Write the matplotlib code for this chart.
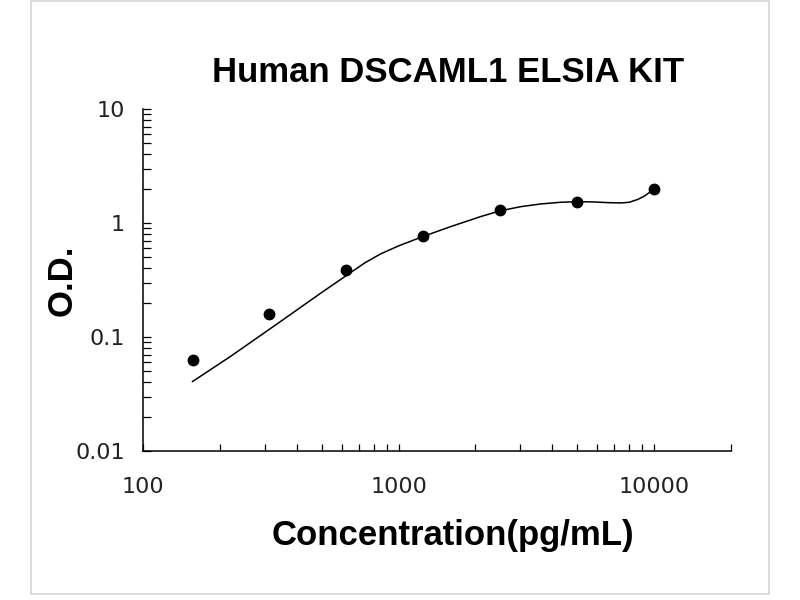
import matplotlib
matplotlib.use("Agg")
import matplotlib.pyplot as plt
import matplotlib.ticker as plticker
from matplotlib.patches import Rectangle

# standards (pg/mL) and measured O.D.
conc = [156.25, 312.5, 625, 1250, 2500, 5000, 10000]
od = [0.063, 0.159, 0.387, 0.769, 1.30, 1.53, 1.99]

# fitted curve
curve_x = [156, 219, 344, 494, 629, 740, 850, 1000, 1253, 1600, 2099, 2500, 3000,
           3606, 4300, 5025, 5800, 6580, 7400, 8000, 8630, 9160, 10000]
curve_y = [0.0406, 0.0671, 0.136, 0.241, 0.350, 0.449, 0.535, 0.630, 0.765, 0.93, 1.14, 1.28, 1.39,
           1.47, 1.52, 1.54, 1.53, 1.51, 1.50, 1.52, 1.61, 1.72, 1.99]

x_ticks = [100, 1000, 10000]
x_ticklabels = ["100", "1000", "10000"]
y_ticks = [0.01, 0.1, 1, 10]
y_ticklabels = ["0.01", "0.1", "1", "10"]

fig = plt.figure(figsize=(8, 6), dpi=100)
fig.patch.set_facecolor("white")
fig.patches.append(Rectangle((0.03875, 0.01), 0.9225, 0.988, transform=fig.transFigure,
                             fill=False, edgecolor="#d6d6d6", linewidth=1.2))

ax = fig.add_axes([0.17875, 0.2483, 0.735, 0.57])
ax.plot(curve_x, curve_y, color="black", linewidth=1.1, solid_capstyle="round", solid_joinstyle="round")
ax.plot(conc, od, "o", color="black", markersize=7.5)

ax.set_xscale("log")
ax.set_yscale("log")
ax.set_xlim(100, 20000)
ax.set_ylim(0.01, 10)

for side in ["top", "right"]:
    ax.spines[side].set_visible(False)
for side in ["left", "bottom"]:
    ax.spines[side].set_linewidth(1.1)

ax.set_xticks(x_ticks)
ax.set_xticklabels(x_ticklabels)
ax.set_yticks(y_ticks)
ax.set_yticklabels(y_ticklabels)
ax.xaxis.set_minor_locator(plticker.LogLocator(base=10, subs=range(2, 10), numticks=20))
ax.yaxis.set_minor_locator(plticker.LogLocator(base=10, subs=range(2, 10), numticks=20))
ax.xaxis.set_minor_formatter(plticker.NullFormatter())
ax.yaxis.set_minor_formatter(plticker.NullFormatter())

ax.tick_params(axis="x", which="both", direction="in", length=5, width=0.9, pad=19,
               labelsize=16, colors="black", labelcolor="#222222")
ax.tick_params(axis="y", which="both", direction="in", length=6, width=0.9, pad=13,
               labelsize=16, colors="black", labelcolor="#222222")

ax.set_xlabel("Concentration(pg/mL)", fontsize=25, fontweight="bold", family="Liberation Sans")
ax.xaxis.set_label_coords(0.527, -0.2749)
ax.xaxis.label.set_va("baseline")
ax.set_ylabel("O.D.", fontsize=25, fontweight="bold", family="Liberation Sans")
ax.yaxis.set_label_coords(-0.1207, 0.5)
ax.yaxis.label.set_va("baseline")

fig.text(448 / 800, 1 - 82 / 600, "Human DSCAML1 ELSIA KIT", fontsize=25, fontweight="bold",
         family="Liberation Sans", ha="center", va="baseline")

fig.savefig("out.png", dpi=100)
